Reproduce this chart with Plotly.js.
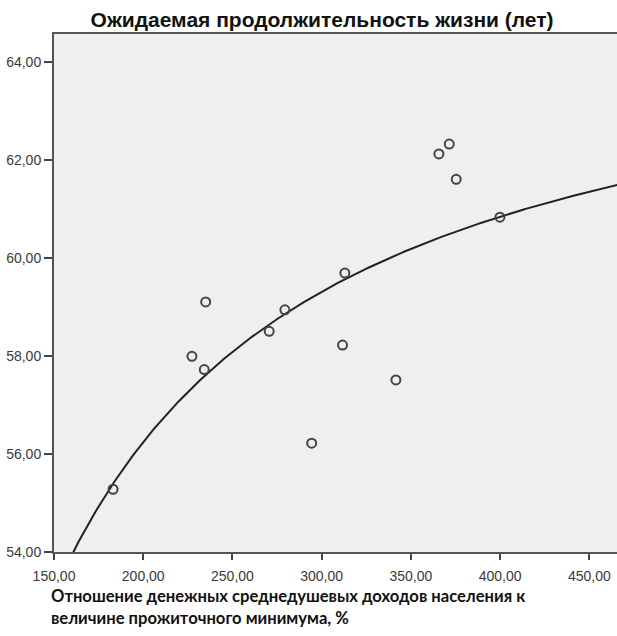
<!DOCTYPE html>
<html>
<head>
<meta charset="utf-8">
<script src="https://cdn.plot.ly/plotly-3.0.1.min.js"></script>
<style>html,body{margin:0;padding:0;background:#fff;}</style>
</head>
<body>
<div id="chart" style="width:617px;height:636px;"></div>
<script>
// Scatter data: income-to-subsistence ratio (%) vs life expectancy (years)
const incomeRatio = [183.1, 227.3, 234.2, 235.0, 270.6, 279.4, 294.4, 311.7, 313.0, 341.6, 365.7, 371.5, 375.4, 399.9];
const lifeExpectancy = [55.28, 57.99, 57.72, 59.10, 58.50, 58.94, 56.22, 58.22, 59.69, 57.51, 62.12, 62.32, 61.60, 60.83];

const xTickVals = [150, 200, 250, 300, 350, 400, 450];
const xTickText = ['150,00', '200,00', '250,00', '300,00', '350,00', '400,00', '450,00'];
const yTickVals = [54, 56, 58, 60, 62, 64];
const yTickText = ['54,00', '56,00', '58,00', '60,00', '62,00', '64,00'];

// Inverse model fit (y = a + b/x), least squares from the data, as in SPSS curve estimation
const u = incomeRatio.map(v => 1 / v);
const n = u.length;
const mu = u.reduce((s, v) => s + v, 0) / n;
const my = lifeExpectancy.reduce((s, v) => s + v, 0) / n;
let sxy = 0, sxx = 0;
for (let i = 0; i < n; i++) { sxy += (u[i] - mu) * (lifeExpectancy[i] - my); sxx += (u[i] - mu) * (u[i] - mu); }
const b = sxy / sxx;
const a = my - b * mu;
const fitX = [], fitY = [];
for (let i = 0; i <= 300; i++) {
  const xv = 155 + i * (470 - 155) / 300;
  fitX.push(xv); fitY.push(a + b / xv);
}

const traces = [
  { x: fitX, y: fitY, mode: 'lines', line: { color: '#222', width: 2 }, hoverinfo: 'skip', showlegend: false },
  { x: incomeRatio, y: lifeExpectancy, mode: 'markers',
    marker: { symbol: 'circle-open', size: 9, color: '#444', line: { width: 2, color: '#444' } }, showlegend: false }
];

const tickFont = { family: 'Liberation Sans, Arial, sans-serif', size: 14, color: '#3a3a3a' };

const layout = {
  width: 617, height: 636,
  margin: { l: 54, r: 0, t: 34, b: 84 },
  paper_bgcolor: '#ffffff',
  plot_bgcolor: '#efefef',
  title: { text: 'Ожидаемая продолжительность жизни (лет)', x: 0.522, xref: 'container', xanchor: 'center',
           y: 0.969, yref: 'container', yanchor: 'middle',
           font: { family: 'Liberation Sans, Arial, sans-serif', size: 21, color: '#111', weight: 'bold' } },
  xaxis: { range: [150, 465.5], tickvals: xTickVals, ticktext: xTickText, ticks: 'outside', ticklen: 6, tickwidth: 2,
           tickcolor: '#444', showline: true, linecolor: '#555', linewidth: 2, mirror: true, showgrid: false,
           zeroline: false, tickfont: tickFont, ticklabelstandoff: 4 },
  yaxis: { range: [54, 64.565], tickvals: yTickVals, ticktext: yTickText, ticks: 'outside', ticklen: 8, tickwidth: 2,
           tickcolor: '#444', showline: true, linecolor: '#555', linewidth: 2, showgrid: false,
           zeroline: false, tickfont: tickFont },
  annotations: [{
    text: 'Отношение денежных среднедушевых доходов населения к<br>величине прожиточного минимума, %',
    xref: 'paper', yref: 'paper', x: -0.008, y: -0.061, xanchor: 'left', yanchor: 'top', align: 'left',
    showarrow: false, font: { family: 'Lato, Open Sans, sans-serif', size: 16.6, color: '#111', weight: 'bold' }
  }]
};

Plotly.newPlot('chart', traces, layout, { displayModeBar: false, staticPlot: true });
</script>
</body>
</html>
